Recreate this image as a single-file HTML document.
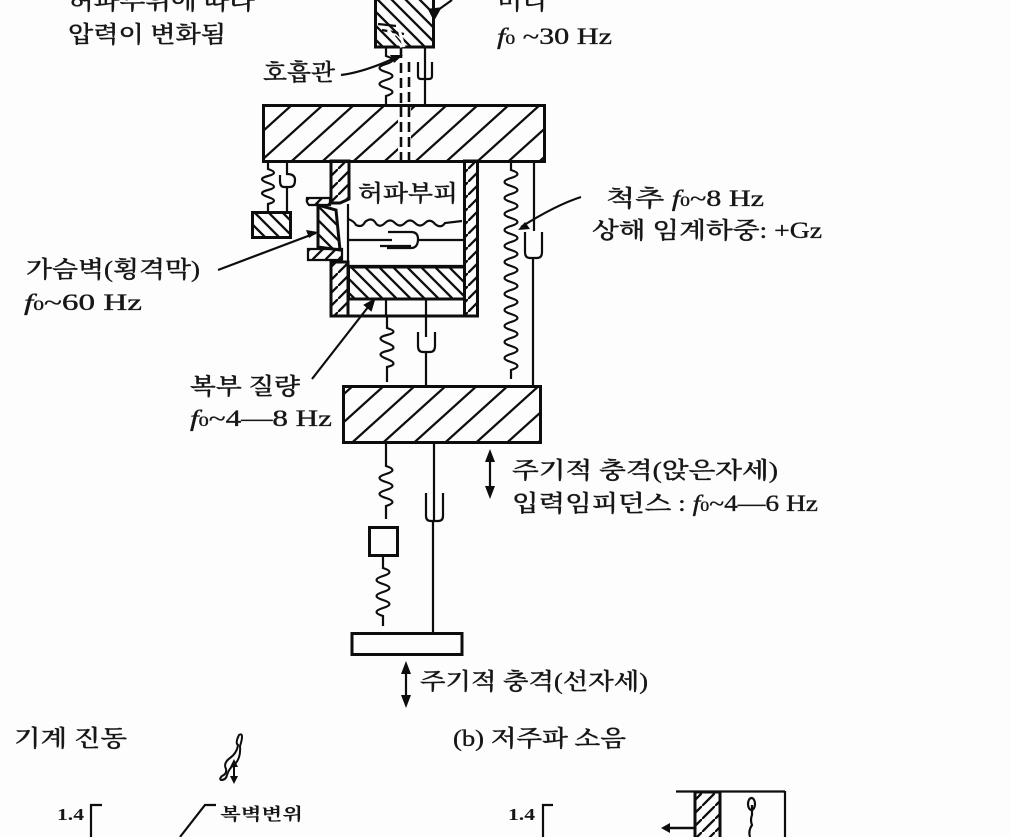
<!DOCTYPE html>
<html><head><meta charset="utf-8"><style>
html,body{margin:0;padding:0;background:#fdfdfd}
svg{display:block}
text{font-family:"Liberation Serif","Noto Serif CJK KR","Noto Serif CJK SC",serif;font-size:23px;font-weight:500;fill:#151515;stroke:#151515;stroke-width:.35}
.s{font-size:17px;font-weight:700;stroke-width:0}
.l{fill:none;stroke:#111;stroke-width:2.2}
.t{stroke:#111;stroke-width:3}
.wide{fill:url(#wide)}
.back{fill:url(#back)}
.wall{fill:url(#wall)}
.n{fill:none}
</style></head><body>
<svg width="1011" height="837" viewBox="0 0 1011 837" xmlns="http://www.w3.org/2000/svg">
<defs>
<pattern id="wide" width="31" height="28" patternUnits="userSpaceOnUse" patternTransform="translate(4 1)"><path d="M-3 30.700L34 -2.700M-3 2.700L3 -2.700M28 30.700L34 25.300" stroke="#111" stroke-width="2.3" fill="none"/></pattern>
<pattern id="back" width="14" height="14" patternUnits="userSpaceOnUse"><path d="M-2 -2L16 16M-2 12L2 16M12 -2L16 2" stroke="#111" stroke-width="2.3" fill="none"/></pattern>
<pattern id="wall" width="13" height="13" patternUnits="userSpaceOnUse"><path d="M-2 15L15 -2M-2 1L1 -2M12 15L15 12" stroke="#111" stroke-width="2.3" fill="none"/></pattern>
<filter id="b" x="0" y="0" width="100%" height="100%"><feGaussianBlur stdDeviation="0.35"/></filter>
</defs>
<g filter="url(#b)">
<!-- head -->
<rect x="375.500" y="-8" width="58" height="55" class="t back"/>
<path d="M378 24l18 2M382 30l22 4M395 36l10 11" class="l"/>
<path d="M398 26l6 21M388 30l14 17" stroke="#fdfdfd" stroke-width="3" fill="none"/>
<!-- upper links -->
<path d="M386 47v9q13 4 0 8t0 8t0 8t0 8t0 8v9" class="l"/>
<path d="M401 48V105M409 62V105" stroke="#111" stroke-width="2.600" stroke-dasharray="10 5" fill="none"/>
<path d="M425 47v33M418 62v14q0 3 3 3h8q3 0 3-3v-14M425 80v25" class="l"/>
<!-- top block -->
<rect x="263.500" y="105.500" width="281" height="56" class="t wide"/>
<rect x="398" y="107" width="13" height="53" fill="#fdfdfd"/>
<path d="M401 107V161M409 107V161" stroke="#111" stroke-width="2.600" stroke-dasharray="10 5" fill="none"/>
<!-- small mass -->
<path d="M268 161v8q12 4 0 7t0 7t0 7t0 7t0 7v9" class="l"/>
<path d="M287 162v12q8 0 8 6q0 7-5 7h-6q-4 0-4-6v-6M287 187v25" class="l"/>
<rect x="252.500" y="212.500" width="38" height="25" class="t back"/>
<!-- cavity walls -->
<path d="M331 161H349V199L340 203H331Z" class="t wall"/>
<rect x="464.500" y="161" width="13" height="155" class="t wall"/>
<path d="M331 262H348V316H331Z" class="t wall"/>
<path d="M331 316H478" class="t n"/>
<path d="M318 205L336 210L340 250L318 247Z" class="t back"/>
<path d="M307 198h23v7h-21q-3-3-2-7Z" class="l" style="fill:url(#wall)"/>
<path d="M308 249h34v11h-34z" class="l" style="fill:url(#wall)"/>
<path d="M348 204V262" class="l"/>
<!-- diaphragm -->
<path d="M348 219q6 2 8 6q6 3 9-3q6-5 10 0q4 7 10 1q5-5 10 0q5 5 10 0q5-5 10 0q5 5 10 0q5-5 10 1q6 5 10-1l17-2" class="l"/>
<path d="M348 240H392M388 232h23q7 0 7 7q0 9-7 9h-24M380 246h31M418 240H464" class="l"/>
<path d="M349 266H464" class="l"/>
<rect x="348.500" y="267" width="116" height="32" class="t back"/>
<!-- spine -->
<path d="M511 161v9q13 4 0 8t0 8t0 8t0 8t0 8t0 8t0 8t0 8t0 8t0 8t0 8t0 8t0 8t0 8t0 8t0 8t0 8t0 8t0 8t0 8t0 8t0 8t0 8t0 8t0 8v9" class="l"/>
<path d="M534 161v70M525 232v20q0 6 5 6h7q5 0 5-6v-20M533 258V387" class="l"/>
<!-- abdominal links -->
<path d="M386 300v15M426 300v15" class="l"/>
<path d="M387 315v13q13 4 0 7t0 8t0 8t0 8t0 8v15" class="l"/>
<path d="M426 316v21M418 332v14q0 6 5 6h7q5 0 5-6v-14M426 353v34" class="l"/>
<!-- lower block -->
<rect x="343.500" y="386.500" width="197" height="56" class="t wide"/>
<path d="M386 442v24q13 4 0 8t0 8t0 8t0 8t0 8v13" class="l"/>
<rect x="369.500" y="527.500" width="28" height="28" class="t n"/>
<path d="M383 555v13q13 4 0 8t0 8t0 8t0 8t0 8t0 8v10" class="l"/>
<path d="M434 442v80M426 493v23q0 5 5 5h7q5 0 5-5v-23M433 521V633" class="l"/>
<rect x="352" y="633.500" width="110" height="21" class="t n"/>
<!-- leaders and arrows -->
<path d="M341 75Q365 72 397 57" class="l"/><path d="M403 55l-13 0l4 8z" fill="#111"/>
<path d="M452 0L431 15" class="l"/><path d="M434 18l5-9l-9 1z" fill="#111" stroke="#111" stroke-width="3"/>
<path d="M581 197Q556 205 521 227" class="l"/><path d="M518 230l12-1l-5-7z" fill="#111"/>
<path d="M218 270L316 233" class="l"/><path d="M318 232l-12-2l3 8z" fill="#111"/>
<path d="M312 379L372 302" class="l"/><path d="M374 300l-9 5l6 5z" fill="#111" stroke="#111" stroke-width="2"/>
<path d="M490 454V494" stroke="#111" stroke-width="2.200"/><path d="M490 449l-5 13h10zM490 499l-5-13h10z" fill="#111"/>
<path d="M406 668V702" stroke="#111" stroke-width="2.200"/><path d="M406 661l-5 13h10zM406 708l-5-13h10z" fill="#111"/>
<!-- figure icon -->
<path d="M239 735q-4 8-1 10q-1 8-8 13q-7 5-4 11q1 5-4 7q-3 3-1 4q5 0 6-5q2-7 8-11q6-6 5-18q2-6 2-9q0-4-3-2z" fill="#fdfdfd" stroke="#111" stroke-width="2"/>
<path d="M234 764V782" stroke="#111" stroke-width="2"/><path d="M234 759l-4 8h8zM234 784l-4-8h8z" fill="#111"/>
<!-- lower fragments -->
<path d="M91 837V805H102M543 837V805H553M180 837L205 805H216" class="l"/>
<path d="M676 791.500H785" class="l"/><path d="M785 791V837" class="l"/>
<rect x="695" y="792" width="25" height="50" class="t wall"/>
<path d="M752 805v10q-2 5 0 10q-4 6-2 12M748 804a3.500 6 0 1 0 7 0a3.500 6 0 1 0-7 0" class="l"/>
<path d="M664 828H695" stroke="#111" stroke-width="2.500"/><path d="M661 828l9-5v10z" fill="#111"/>
<!-- text -->
<text x="68" y="9" textLength="187" lengthAdjust="spacingAndGlyphs">허파부위에 따라</text>
<text x="68" y="42" textLength="158" lengthAdjust="spacingAndGlyphs">압력이 변화됨</text>
<text x="497" y="9" textLength="50" lengthAdjust="spacingAndGlyphs">머리</text>
<text x="497" y="44" textLength="115" lengthAdjust="spacingAndGlyphs"><tspan font-style="italic">f</tspan><tspan font-size="15">0</tspan> ~30 Hz</text>
<text x="263" y="80" textLength="72" lengthAdjust="spacingAndGlyphs">호흡관</text>
<text x="358" y="201" textLength="100" lengthAdjust="spacingAndGlyphs">허파부피</text>
<text x="606" y="206" textLength="158" lengthAdjust="spacingAndGlyphs">척추  <tspan font-style="italic">f</tspan><tspan font-size="15">0</tspan>~8 Hz</text>
<text x="592" y="238" textLength="230" lengthAdjust="spacingAndGlyphs">상해 임계하중: +Gz</text>
<text x="26" y="277" textLength="174" lengthAdjust="spacingAndGlyphs">가슴벽(횡격막)</text>
<text x="24" y="310" textLength="118" lengthAdjust="spacingAndGlyphs"><tspan font-style="italic">f</tspan><tspan font-size="15">0</tspan>~60 Hz</text>
<text x="190" y="394" textLength="110" lengthAdjust="spacingAndGlyphs">복부 질량</text>
<text x="190" y="426" textLength="142" lengthAdjust="spacingAndGlyphs"><tspan font-style="italic">f</tspan><tspan font-size="15">0</tspan>~4—8 Hz</text>
<text x="512" y="478" textLength="266" lengthAdjust="spacingAndGlyphs">주기적 충격(앉은자세)</text>
<text x="512" y="511" textLength="306" lengthAdjust="spacingAndGlyphs">입력임피던스 : <tspan font-style="italic">f</tspan><tspan font-size="15">0</tspan>~4—6 Hz</text>
<text x="420" y="689" textLength="228" lengthAdjust="spacingAndGlyphs">주기적 충격(선자세)</text>
<text x="14" y="746" textLength="113" lengthAdjust="spacingAndGlyphs">기계 진동</text>
<text x="453" y="746" textLength="173" lengthAdjust="spacingAndGlyphs">(b) 저주파 소음</text>
<text class="s" x="220" y="820" textLength="83" lengthAdjust="spacingAndGlyphs">복벽변위</text>
<text class="s" x="57" y="820" textLength="27" lengthAdjust="spacingAndGlyphs">1.4</text>
<text class="s" x="508" y="820" textLength="27" lengthAdjust="spacingAndGlyphs">1.4</text>
</g>
</svg>
</body></html>
